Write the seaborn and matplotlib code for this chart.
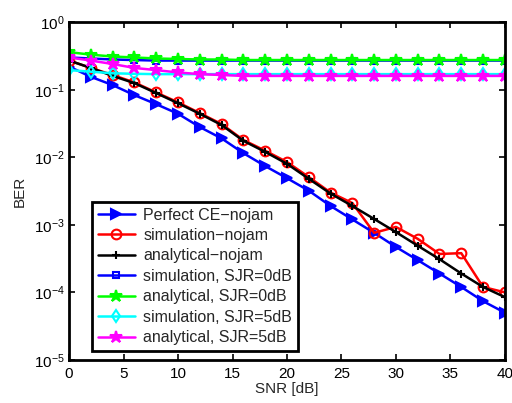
import numpy as np
import pandas as pd
import matplotlib
matplotlib.use("Agg")
import matplotlib.pyplot as plt
import seaborn as sns

# Datos (SNR cada 2 dB)
snr = list(range(0, 41, 2))

perfect_nojam = [0.22, 0.155, 0.117, 0.083, 0.061, 0.044, 0.028, 0.019, 0.0115, 0.0074,
                 0.0049, 0.0032, 0.0019, 0.0012, 7.6e-4, 4.7e-4, 3.0e-4, 1.9e-4, 1.2e-4,
                 7.4e-5, 5.0e-5]
sim_nojam = [0.27, 0.21, 0.165, 0.128, 0.091, 0.065, 0.045, 0.031, 0.018, 0.0125,
             0.0085, 0.0051, 0.0030, 0.0021, 7.6e-4, 9.3e-4, 6.2e-4, 3.7e-4, 3.8e-4,
             1.2e-4, 1.0e-4]
ana_nojam = [0.27, 0.21, 0.16, 0.125, 0.089, 0.063, 0.044, 0.030, 0.0175, 0.012,
             0.0080, 0.0048, 0.0029, 0.0019, 0.00122, 7.8e-4, 4.9e-4, 3.1e-4, 1.9e-4,
             1.2e-4, 8.5e-5]
sim_sjr0 = [0.30, 0.29, 0.28, 0.275, 0.27, 0.27, 0.27, 0.27, 0.27, 0.27,
            0.27, 0.27, 0.27, 0.27, 0.27, 0.27, 0.27, 0.27, 0.27, 0.27, 0.27]
ana_sjr0 = [0.36, 0.33, 0.31, 0.30, 0.29, 0.285, 0.28, 0.28, 0.275, 0.275,
            0.275, 0.275, 0.275, 0.275, 0.275, 0.275, 0.275, 0.275, 0.275, 0.275, 0.275]
sim_sjr5 = [0.195, 0.185, 0.175, 0.172, 0.17, 0.17, 0.17, 0.17, 0.17, 0.17,
            0.17, 0.17, 0.17, 0.17, 0.17, 0.17, 0.17, 0.17, 0.17, 0.17, 0.17]
ana_sjr5 = [0.30, 0.27, 0.24, 0.21, 0.195, 0.18, 0.17, 0.165, 0.16, 0.16,
            0.16, 0.16, 0.16, 0.16, 0.16, 0.16, 0.16, 0.16, 0.16, 0.16, 0.16]

series = [
    ("Perfect CE\u2212nojam", perfect_nojam, "#0000ff", ">", True),
    ("simulation\u2212nojam", sim_nojam, "#ff0000", "o", False),
    ("analytical\u2212nojam", ana_nojam, "#000000", "+", True),
    ("simulation, SJR=0dB", sim_sjr0, "#0000ff", "s", False),
    ("analytical, SJR=0dB", ana_sjr0, "#00ff00", "*", True),
    ("simulation, SJR=5dB", sim_sjr5, "#00ffff", "d", False),
    ("analytical, SJR=5dB", ana_sjr5, "#ff00ff", "*", True),
]

sns.set_style("ticks")
plt.rcParams["font.family"] = ["Liberation Sans", "DejaVu Sans"]
plt.rcParams["mathtext.default"] = "regular"
plt.rcParams["xtick.direction"] = "in"
plt.rcParams["ytick.direction"] = "in"

fig = plt.figure(figsize=(5.12, 4.03), dpi=100)
ax = fig.add_axes([0.135, 0.107, 0.851, 0.838])

tamanos = {">": 7.5, "o": 7, "+": 6, "s": 5, "*": 9, "d": 6}
for nombre, vals, color, mk, relleno in series:
    sns.lineplot(x=snr, y=vals, ax=ax, color=color, marker=mk, label=nombre,
                 linewidth=1.8, markersize=tamanos[mk],
                 markeredgewidth=1.5,
                 markerfacecolor=color if relleno else "none",
                 markeredgecolor=color)

ax.set_yscale("log")
ax.set_xlim(0, 40)
ax.set_ylim(1e-5, 1)
ax.set_xticks(range(0, 41, 5))
ax.set_yticks([1e-5, 1e-4, 1e-3, 1e-2, 1e-1, 1])
ax.minorticks_off()
ax.tick_params(axis="both", which="major", labelsize=11, length=4, width=1.2,
               top=True, right=True, color="black", labelcolor="black", pad=3)
ax.tick_params(axis="x", pad=5)
for s in ax.spines.values():
    s.set_linewidth(2)
    s.set_color("black")
ax.grid(False)
ax.set_xlabel("SNR [dB]", fontsize=11, labelpad=1)
ax.set_ylabel("BER", fontsize=11, labelpad=5)

leg = ax.legend(loc="lower left", bbox_to_anchor=(0.053, 0.027), fontsize=11.5,
                frameon=True, fancybox=False, handlelength=2.3, borderpad=0.35,
                labelspacing=0.34, handletextpad=0.55, borderaxespad=0)
leg.get_frame().set_edgecolor("black")
leg.get_frame().set_linewidth(2)
leg.get_frame().set_alpha(1)

plt.savefig("out.png", dpi=100)
plt.close()
